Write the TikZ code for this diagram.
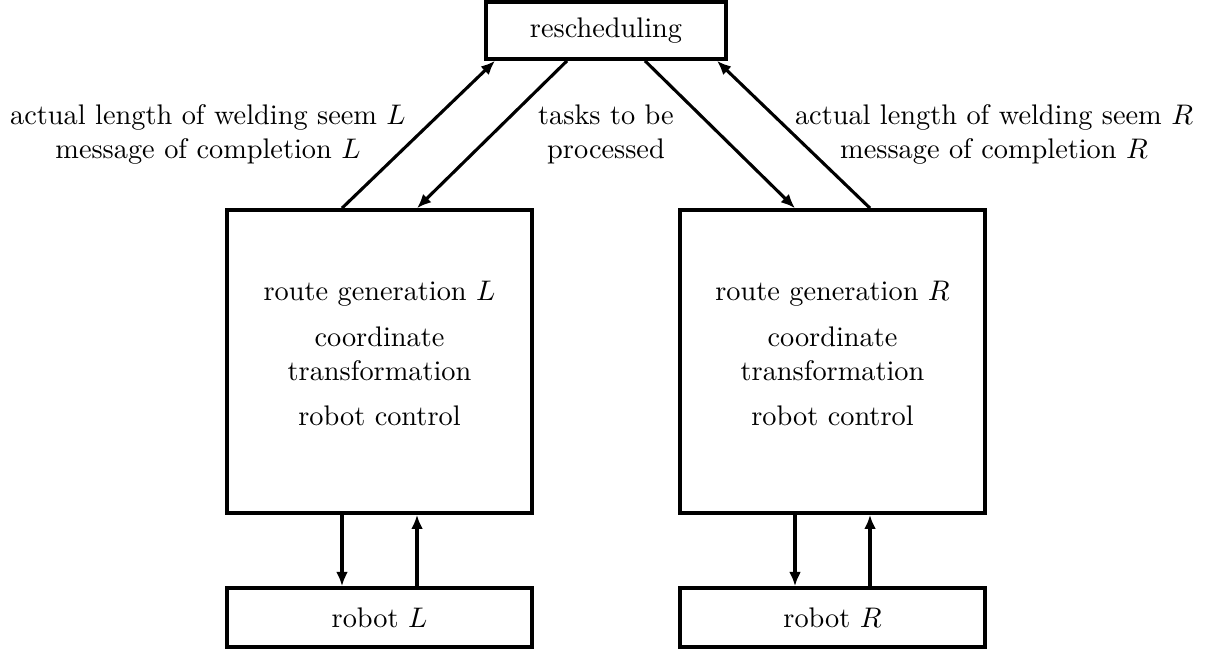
\documentclass[tikz,border=0pt]{standalone}
\usetikzlibrary{calc,arrows.meta}
\begin{document}
\begin{tikzpicture}[x=0.353pt,y=-0.353pt,
  box/.style={draw,line width=1.3pt,inner sep=0pt,align=center},
  arr/.style={line width=1.1pt,-{Latex[length=5pt,width=4.2pt]}},
  lbl/.style={align=center,inner sep=0pt}]
\useasboundingbox (0,0) rectangle (1221,652);
\node[box,minimum width={240*0.353pt},minimum height={57*0.353pt}] (top) at (606,30.5) {rescheduling};
\node[box,minimum width={305*0.353pt},minimum height={303*0.353pt}] (lbox) at (379.5,361.5) {};
\node[box,minimum width={305*0.353pt},minimum height={303*0.353pt}] (rbox) at (832.5,361.5) {};
\node[lbl] (ltxt) at ($(lbox.center)+(0,-8)$)
  {route generation $L$\\[4pt]coordinate\\transformation\\[4pt]robot control};
\node[lbl] (rtxt) at ($(rbox.center)+(0,-8)$)
  {route generation $R$\\[4pt]coordinate\\transformation\\[4pt]robot control};
\node[box,minimum width={305*0.353pt},minimum height={59*0.353pt}] (robl) at (379.5,617.5) {robot $L$};
\node[box,minimum width={305*0.353pt},minimum height={59*0.353pt}] (robr) at (832.5,617.5) {robot $R$};
% diagonal arrows
\draw[arr] ($(lbox.north)+(-37.5,0)$) -- ($(top.south)+(-111,0)$);
\draw[arr] ($(top.south)+(-39,0)$) -- ($(lbox.north)+(37.5,0)$);
\draw[arr] ($(top.south)+(39,0)$) -- ($(rbox.north)+(-37.5,0)$);
\draw[arr] ($(rbox.north)+(37.5,0)$) -- ($(top.south)+(111,0)$);
% vertical arrows
\draw[arr] ($(lbox.south)+(-37.5,0)$) -- ($(robl.north)+(-37.5,0)$);
\draw[arr] ($(robl.north)+(37.5,0)$) -- ($(lbox.south)+(37.5,0)$);
\draw[arr] ($(rbox.south)+(-37.5,0)$) -- ($(robr.north)+(-37.5,0)$);
\draw[arr] ($(robr.north)+(37.5,0)$) -- ($(rbox.south)+(37.5,0)$);
% labels
\node[lbl] (labl) at (208,134) {actual length of welding seem $L$\\message of completion $L$};
\node[lbl] (labm) at (606,134) {tasks to be\\processed};
\node[lbl] (labr) at (994,134) {actual length of welding seem $R$\\message of completion $R$};
\end{tikzpicture}
\end{document}
